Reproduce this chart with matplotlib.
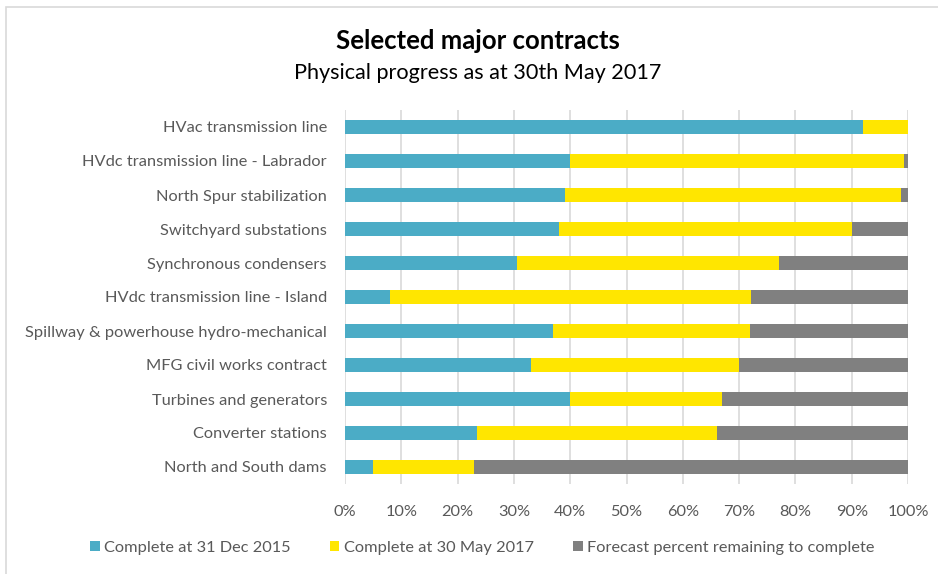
import matplotlib.pyplot as plt
from matplotlib.patches import Rectangle

plt.rcParams['font.family'] = ['Lato', 'DejaVu Sans']

# Data (top to bottom as shown)
contracts = ['HVac transmission line',
             'HVdc transmission line - Labrador',
             'North Spur stabilization',
             'Switchyard substations',
             'Synchronous condensers',
             'HVdc transmission line - Island',
             'Spillway & powerhouse hydro-mechanical',
             'MFG civil works contract',
             'Turbines and generators',
             'Converter stations',
             'North and South dams']
done_2015 = [92, 40, 39, 38, 30.6, 8, 37, 33, 40, 23.5, 5]
done_2017 = [8, 59.3, 59.8, 52, 46.4, 64.2, 35, 37, 27, 42.5, 18]
remaining = [0, 0.7, 1.2, 10, 23, 27.8, 28, 30, 33, 34, 77]
series_names = ['Complete at 31 Dec 2015', 'Complete at 30 May 2017',
                'Forecast percent remaining to complete']
colors = ['#4BACC6', '#FFE600', '#808080']

fig = plt.figure(figsize=(9.38, 5.74), dpi=100)
W, H = 938, 574
ax = fig.add_axes([345 / W, 1 - 484 / H, (908 - 345) / W, (484 - 110) / H])

# outer frame like the Excel chart area
fig.patches.append(Rectangle((6 / W, -0.1), 1.2, 1 - 7 / H + 0.1,
                             transform=fig.transFigure, fill=False,
                             edgecolor='#D9D9D9', linewidth=1.2))

y = list(range(len(contracts)))
left2 = [a for a in done_2015]
left3 = [a + b for a, b in zip(done_2015, done_2017)]
ax.barh(y, done_2015, height=0.39, color=colors[0], label=series_names[0], zorder=3)
ax.barh(y, done_2017, left=left2, height=0.39, color=colors[1], label=series_names[1], zorder=3)
ax.barh(y, remaining, left=left3, height=0.39, color=colors[2], label=series_names[2], zorder=3)

ax.set_xlim(0, 100)
ax.set_ylim(len(contracts) - 0.5, -0.5)
ax.set_yticks(y)
ax.set_yticklabels(contracts)
ax.set_xticks(range(0, 101, 10))
ax.set_xticklabels([f'{v}%' for v in range(0, 101, 10)])
ax.tick_params(axis='both', length=0, labelsize=11.8, labelcolor='#595959')
ax.tick_params(axis='y', pad=13)
ax.tick_params(axis='x', pad=15)
ax.grid(axis='x', color='#D9D9D9', linewidth=1.2, zorder=0)
for s in ax.spines.values():
    s.set_visible(False)

fig.text(478 / W, 1 - 41 / H, 'Selected major contracts', ha='center', va='center',
         fontsize=18.5, fontweight='bold', color='black')
fig.text(478 / W, 1 - 73 / H, 'Physical progress as at 30th May 2017', ha='center',
         va='center', fontsize=15.6, color='black')

fig.legend(loc='center', bbox_to_anchor=(482 / W, 1 - 548 / H), ncol=3, frameon=False,
           fontsize=11.8, labelcolor='#595959', handlelength=0.6, handleheight=0.6,
           handletextpad=0.25, columnspacing=2.4)

fig.savefig('out.png', dpi=100)
